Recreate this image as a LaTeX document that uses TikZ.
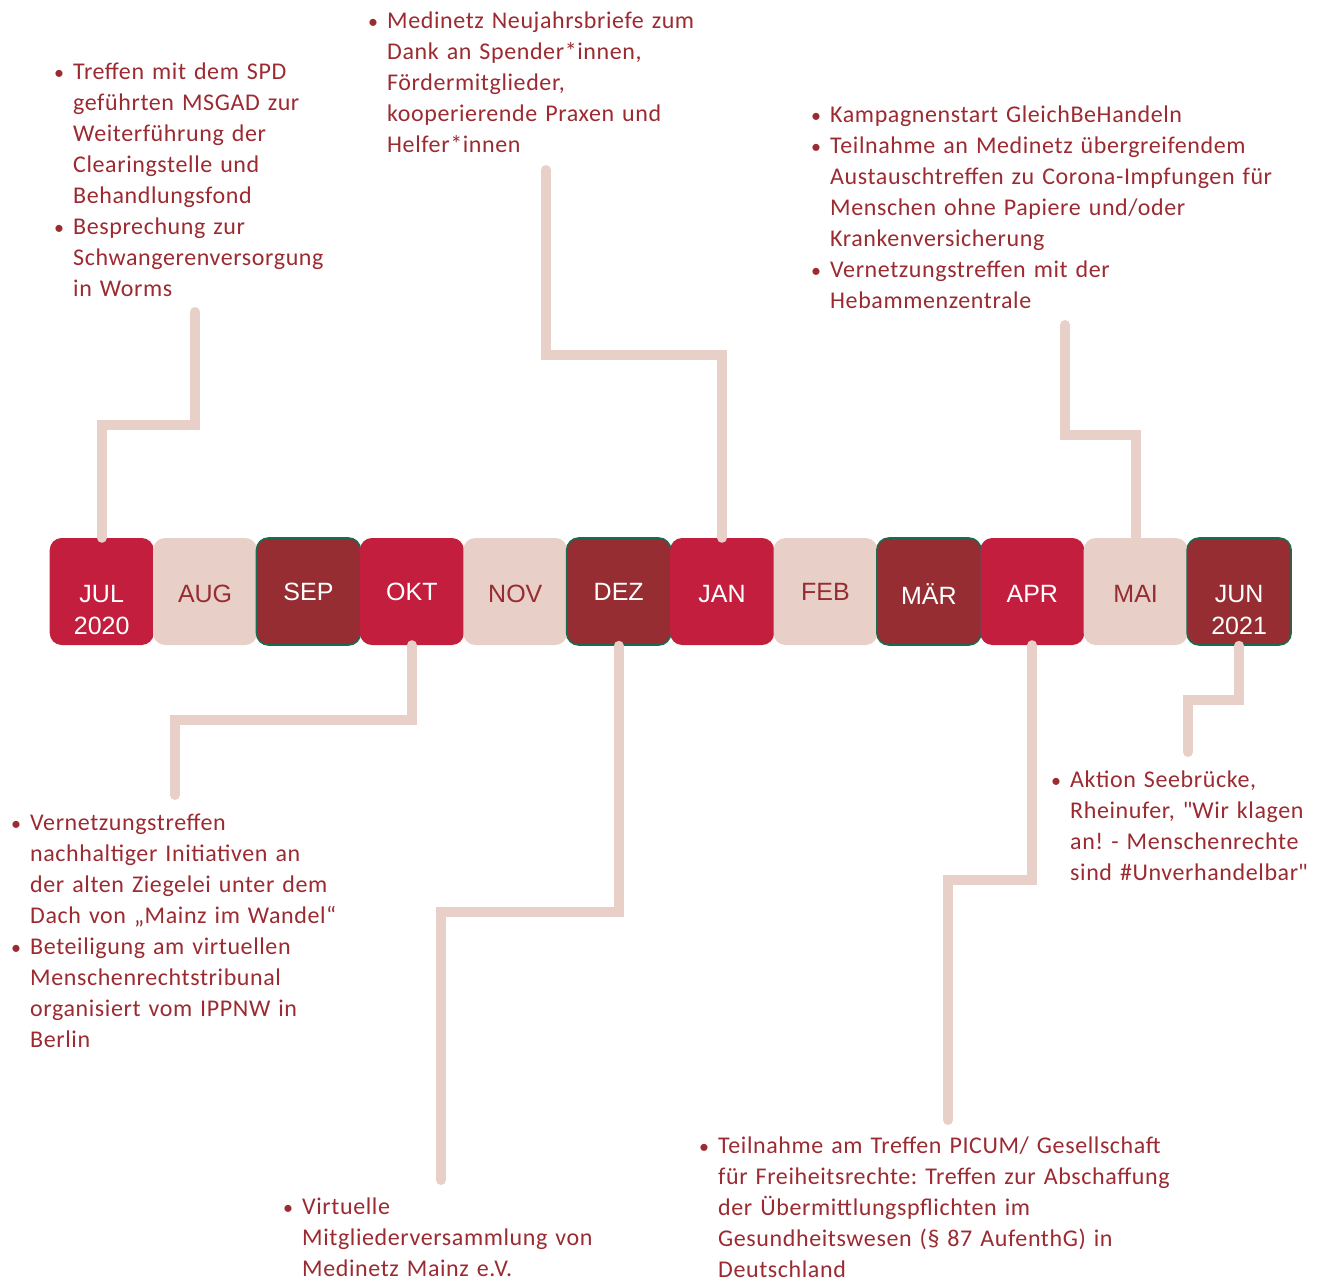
\documentclass[tikz,border=0pt]{standalone}
\usepackage{fontspec}
\setmainfont{Carlito}[LetterSpace=2.5]
\newfontfamily\dqfont{Carlito}[LetterSpace=2.5,Ligatures=TeXOff]
\newfontfamily\monthfont{Liberation Sans}
\definecolor{crimson}{HTML}{C41E3F}
\definecolor{palepink}{HTML}{E8CFC7}
\definecolor{darkred}{HTML}{962D32}
\definecolor{txtred}{HTML}{9B2A31}
\definecolor{boxgreen}{HTML}{1A6B4F}
\newcommand{\bitem}{\makebox[21pt][l]{\hspace*{2pt}{\fontsize{20}{20}\selectfont\textbullet}}}
\newcommand{\bcont}{\hspace*{21pt}}
\newcommand{\dq}{{\dqfont "}}
\frenchspacing
\begin{document}
\begin{tikzpicture}[x=1pt,y=-1pt,
  mbox/.style={rounded corners=12pt,minimum width=104pt,minimum height=107pt,inner sep=0pt,font=\monthfont\fontsize{25}{26}\selectfont},
  mcrim/.style={mbox,fill=crimson,text=white},
  mpale/.style={mbox,fill=palepink,text=darkred},
  mdark/.style={mbox,fill=darkred,text=white,draw=boxgreen,line width=1.6pt},
  mlbl/.style={font=\monthfont\fontsize{25}{26}\selectfont,inner sep=0pt},
  conn/.style={draw=palepink,line width=10pt,line cap=round,line join=miter},
  block/.style={anchor=base west,inner sep=0pt,align=left,text width=560pt,text=txtred,font=\fontsize{24}{31}\selectfont}]
\useasboundingbox (0,0) rectangle (1317,1281);
% month boxes
\node[mcrim] (m1) at (101.7,591.5) {};
\node[mpale] (m2) at (205.1,591.5) {};
\node[mdark] (m3) at (308.5,591.5) {};
\node[mcrim] (m4) at (411.9,591.5) {};
\node[mpale] (m5) at (515.3,591.5) {};
\node[mdark] (m6) at (618.7,591.5) {};
\node[mcrim] (m7) at (722.1,591.5) {};
\node[mpale] (m8) at (825.5,591.5) {};
\node[mdark] (m9) at (928.9,591.5) {};
\node[mcrim] (m10) at (1032.3,591.5) {};
\node[mpale] (m11) at (1135.7,591.5) {};
\node[mdark] (m12) at (1239.1,591.5) {};
% month labels
\node[mlbl,text=white] (l1) at (101.7,594) {JUL};
\node[mlbl,text=darkred] (l2) at (205.1,594) {AUG};
\node[mlbl,text=white] (l3) at (308.5,592) {SEP};
\node[mlbl,text=white] (l4) at (411.9,592) {OKT};
\node[mlbl,text=darkred] (l5) at (515.3,594) {NOV};
\node[mlbl,text=white] (l6) at (618.7,592) {DEZ};
\node[mlbl,text=white] (l7) at (722.1,594) {JAN};
\node[mlbl,text=darkred] (l8) at (825.5,592) {FEB};
\node[mlbl,text=white] (l9) at (928.9,594) {MÄR};
\node[mlbl,text=white] (l10) at (1032.3,594) {APR};
\node[mlbl,text=darkred] (l11) at (1135.7,594) {MAI};
\node[mlbl,text=white] (l12) at (1239.1,594) {JUN};
\node[mlbl,text=white] (y1) at (101.7,626) {2020};
\node[mlbl,text=white] (y2) at (1239.1,626) {2021};
% text blocks
\node[block] (t1) at (52,80) {\bitem Treffen mit dem SPD\\\bcont geführten MSGAD zur\\\bcont Weiterführung der\\\bcont Clearingstelle und\\\bcont Behandlungsfond\\\bitem Besprechung zur\\\bcont Schwangerenversorgung\\\bcont in Worms};
\node[block] (t2) at (366,29) {\bitem Medinetz Neujahrsbriefe zum\\\bcont Dank an Spender*innen,\\\bcont Fördermitglieder,\\\bcont kooperierende Praxen und\\\bcont Helfer*innen};
\node[block] (t3) at (809,123) {\bitem Kampagnenstart GleichBeHandeln\\\bitem Teilnahme an Medinetz übergreifendem\\\bcont Austauschtreffen zu Corona-Impfungen für\\\bcont Menschen ohne Papiere und/oder\\\bcont Krankenversicherung\\\bitem Vernetzungstreffen mit der\\\bcont Hebammenzentrale};
\node[block] (t4) at (9,830) {\bitem Vernetzungstreffen\\\bcont nachhaltiger Initiativen an\\\bcont der alten Ziegelei unter dem\\\bcont Dach von „Mainz im Wandel“\\\bitem Beteiligung am virtuellen\\\bcont Menschenrechtstribunal\\\bcont organisiert vom IPPNW in\\\bcont Berlin};
\node[block] (t5) at (281,1214) {\bitem Virtuelle\\\bcont Mitgliederversammlung von\\\bcont Medinetz Mainz e.V.};
\node[block] (t6) at (697,1153) {\bitem Teilnahme am Treffen PICUM/ Gesellschaft\\\bcont für Freiheitsrechte: Treffen zur Abschaffung\\\bcont der Übermittlungspflichten im\\\bcont Gesundheitswesen (§ 87 AufenthG) in\\\bcont Deutschland};
\node[block] (t7) at (1049,787) {\bitem Aktion Seebrücke,\\\bcont Rheinufer, \dq Wir klagen\\\bcont an! - Menschenrechte\\\bcont sind \#Unverhandelbar\dq};
% connector ends
\coordinate (e1) at (195,312);
\coordinate (e2) at (546,170);
\coordinate (e3) at (1065,325);
\coordinate (e4) at (175,795);
\coordinate (e5) at (441,1180);
\coordinate (e6) at (948,1120);
\coordinate (e7) at (1188,752);
% connectors
\draw[conn] (m1.north) |- (195,425) -- (e1);
\draw[conn] (m7.north) |- (546,355) -- (e2);
\draw[conn] (m11.north) |- (1065,435) -- (e3);
\draw[conn] (m4.south) |- (175,720) -- (e4);
\draw[conn] (m6.south) |- (441,912) -- (e5);
\draw[conn] (m10.south) |- (948,880) -- (e6);
\draw[conn] (m12.south) |- (1188,700) -- (e7);
\end{tikzpicture}
\end{document}
